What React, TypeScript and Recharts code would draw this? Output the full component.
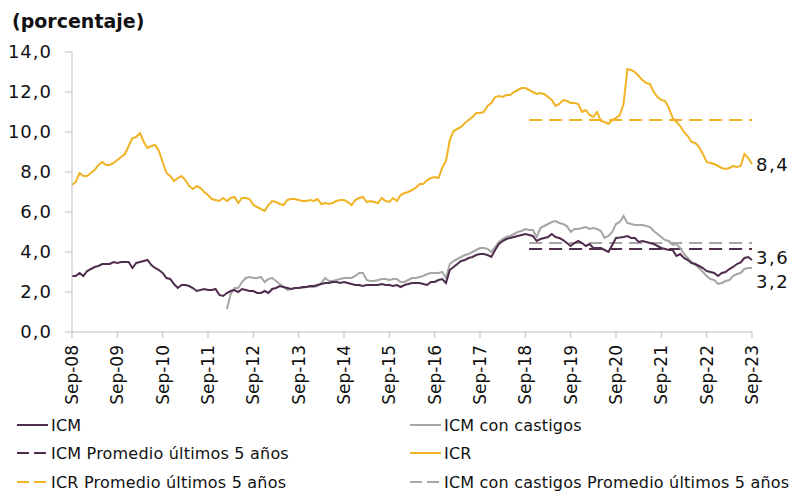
import React from "react";
import { LineChart, Line, XAxis, YAxis } from "recharts";

// Meses desde Sep-08 (índice 0) hasta Sep-23 (índice 180)
const tickLabels = [
  "Sep-08", "Sep-09", "Sep-10", "Sep-11", "Sep-12", "Sep-13", "Sep-14", "Sep-15",
  "Sep-16", "Sep-17", "Sep-18", "Sep-19", "Sep-20", "Sep-21", "Sep-22", "Sep-23"
];
const yTicks = [0, 2, 4, 6, 8, 10, 12, 14];

const icr = [
  7.35, 7.5, 7.95, 7.8, 7.8, 7.95, 8.1, 8.35, 8.5, 8.35, 8.35, 8.45,
  8.6, 8.75, 8.9, 9.3, 9.7, 9.75, 9.95, 9.5, 9.2, 9.3, 9.35, 9.05,
  8.5, 7.95, 7.8, 7.55, 7.7, 7.8, 7.6, 7.3, 7.15, 7.3, 7.2, 7.0,
  6.85, 6.65, 6.6, 6.55, 6.7, 6.55, 6.7, 6.75, 6.45, 6.7, 6.7, 6.65,
  6.35, 6.25, 6.15, 6.05, 6.35, 6.55, 6.5, 6.4, 6.35, 6.6, 6.65, 6.65,
  6.6, 6.55, 6.55, 6.6, 6.55, 6.65, 6.4, 6.45, 6.4, 6.45, 6.55, 6.6,
  6.6, 6.5, 6.35, 6.6, 6.7, 6.75, 6.5, 6.55, 6.5, 6.45, 6.7, 6.55,
  6.5, 6.7, 6.55, 6.85, 6.95, 7.0, 7.1, 7.2, 7.4, 7.4, 7.6, 7.7,
  7.75, 7.7, 8.2, 8.55, 9.6, 10.05, 10.15, 10.25, 10.45, 10.6, 10.75, 10.95,
  10.95, 11.0, 11.3, 11.45, 11.75, 11.8, 11.75, 11.85, 11.85, 12.0, 12.1, 12.2,
  12.2, 12.1, 12.0, 11.9, 11.95, 11.9, 11.75, 11.6, 11.3, 11.4, 11.6, 11.55,
  11.45, 11.45, 11.4, 11.0, 11.1, 10.85, 10.75, 11.0, 10.55, 10.5, 10.4, 10.6,
  10.7, 10.85, 11.4, 13.15, 13.1, 13.0, 12.8, 12.6, 12.45, 12.4, 12.0, 11.75,
  11.6, 11.55, 11.2, 10.7, 10.5, 10.3, 10.0, 9.8, 9.5, 9.45, 9.25, 8.9,
  8.5, 8.45, 8.4, 8.3, 8.2, 8.15, 8.2, 8.3, 8.25, 8.3, 8.9, 8.7,
  8.4
];

const icm = [
  2.8, 2.8, 2.95, 2.8, 3.05, 3.15, 3.25, 3.3, 3.4, 3.4, 3.4, 3.5,
  3.45, 3.5, 3.5, 3.5, 3.2, 3.45, 3.5, 3.55, 3.6, 3.35, 3.2, 3.1,
  2.95, 2.7, 2.65, 2.4, 2.2, 2.35, 2.35, 2.3, 2.2, 2.05, 2.1, 2.15,
  2.1, 2.1, 2.15, 1.85, 1.8, 1.95, 2.05, 2.1, 2.0, 2.15, 2.1, 2.05,
  2.05, 1.95, 1.95, 2.05, 1.95, 2.15, 2.2, 2.3, 2.25, 2.2, 2.15, 2.2,
  2.2, 2.25, 2.25, 2.3, 2.3, 2.35, 2.4, 2.45, 2.45, 2.5, 2.5, 2.45,
  2.5, 2.45, 2.4, 2.35, 2.35, 2.3, 2.35, 2.35, 2.35, 2.35, 2.4, 2.35,
  2.35, 2.3, 2.35, 2.25, 2.35, 2.4, 2.45, 2.45, 2.45, 2.4, 2.35, 2.5,
  2.5, 2.6, 2.65, 2.45, 3.1, 3.25, 3.4, 3.55, 3.6, 3.7, 3.75, 3.85,
  3.9, 3.9, 3.85, 3.75, 4.1, 4.4, 4.55, 4.65, 4.7, 4.75, 4.8, 4.85,
  4.9, 4.85, 4.8, 4.55, 4.65, 4.7, 4.75, 4.9, 4.75, 4.7, 4.6, 4.45,
  4.3, 4.45, 4.55, 4.45, 4.3, 4.4, 4.2, 4.2, 4.2, 4.1, 4.0, 4.35,
  4.7, 4.72, 4.75, 4.8, 4.7, 4.7, 4.5, 4.55, 4.5, 4.45, 4.4, 4.3,
  4.2, 4.15, 4.1, 4.1, 3.8, 3.9, 3.7, 3.6, 3.45, 3.4, 3.3, 3.2,
  3.05, 3.0, 2.95, 2.8, 2.95, 3.0, 3.15, 3.25, 3.4, 3.48, 3.7, 3.75,
  3.6
];

// ICM con castigos empieza en el mes 41 (ene-12)
const castigosDesde = 41;
const icmCastigos = [
  1.15, 1.9, 2.2, 2.2, 2.5, 2.7, 2.75,
  2.7, 2.7, 2.75, 2.5, 2.65, 2.7, 2.55, 2.4, 2.25, 2.1, 2.15, 2.2,
  2.2, 2.2, 2.25, 2.25, 2.25, 2.3, 2.45, 2.7, 2.55, 2.55, 2.6, 2.65,
  2.7, 2.7, 2.7, 2.8, 2.95, 2.95, 2.6, 2.55, 2.55, 2.6, 2.65, 2.65,
  2.6, 2.65, 2.65, 2.5, 2.5, 2.6, 2.7, 2.7, 2.75, 2.8, 2.9, 2.95,
  2.95, 2.95, 3.0, 2.7, 3.4, 3.55, 3.65, 3.75, 3.85, 3.9, 4.0, 4.1,
  4.2, 4.2, 4.15, 4.0, 4.25, 4.5, 4.65, 4.75, 4.8, 4.9, 5.0, 5.05,
  5.15, 5.1, 5.1, 4.75, 5.2, 5.3, 5.4, 5.5, 5.55, 5.45, 5.4, 5.3,
  5.0, 5.15, 5.15, 5.2, 5.25, 5.15, 5.2, 5.15, 5.05, 4.7, 4.8, 5.0,
  5.4, 5.5, 5.8, 5.45, 5.4, 5.35, 5.35, 5.35, 5.3, 5.25, 5.05, 4.9,
  4.75, 4.6, 4.55, 4.35, 4.4, 4.2, 3.9, 3.7, 3.5, 3.35, 3.2, 3.0,
  2.8, 2.65, 2.6, 2.4, 2.45, 2.55, 2.6, 2.8, 2.9, 2.95, 3.15, 3.2,
  3.2
];

// Promedios últimos 5 años (desde oct-18)
const promedioDesde = 121;
const icmPromedio = 4.15;
const icmCastigosPromedio = 4.45;
const icrPromedio = 10.6;

const COLOR_ICM = "#4f2d4f";
const COLOR_CAST = "#a6a6a6";
const COLOR_ICR = "#f0b323";
const AXIS = "#bfbfbf";
const FONT = "'DejaVu Sans', sans-serif";

const data = icr.map((v, i) => ({
  i,
  icr: v,
  icm: icm[i],
  icmCastigos: i >= castigosDesde ? icmCastigos[i - castigosDesde] : null,
  icmProm: i >= promedioDesde ? icmPromedio : null,
  castProm: i >= promedioDesde ? icmCastigosPromedio : null,
  icrProm: i >= promedioDesde ? icrPromedio : null
}));

const lastIndex = icr.length - 1;
const fmt = (v: number) => v.toFixed(1).replace(".", ",");

const endLabel = (dy: number) => (props: any) => {
  const { x, y, value, index } = props;
  if (index !== lastIndex || value == null) return null;
  return (
    <text
      x={x + 4}
      y={y + dy}
      dy="0.35em"
      fontSize={18}
      fontFamily={FONT}
      fill="#111"
      letterSpacing={1.5}
    >
      {fmt(value)}
    </text>
  );
};

const XTick = (props: any) => {
  const { x, y, payload } = props;
  const label = tickLabels[Math.round(payload.value / 12)];
  return (
    <g transform={`translate(${x},${y}) rotate(-90)`}>
      <text x={0} y={0} dy="0.35em" textAnchor="end" fontSize={17} fontFamily={FONT} fill="#111">
        {label}
      </text>
    </g>
  );
};

const legendItems = [
  { name: "ICM", color: COLOR_ICM, dashed: false, left: 17, top: 425 },
  { name: "ICM con castigos", color: COLOR_CAST, dashed: false, left: 410, top: 425 },
  { name: "ICM Promedio últimos 5 años", color: COLOR_ICM, dashed: true, left: 17, top: 453 },
  { name: "ICR", color: COLOR_ICR, dashed: false, left: 410, top: 453 },
  { name: "ICR Promedio últimos 5 años", color: COLOR_ICR, dashed: true, left: 17, top: 482 },
  { name: "ICM con castigos Promedio últimos 5 años", color: COLOR_CAST, dashed: true, left: 410, top: 482 }
];

export default function App() {
  return (
    <div style={{ position: "absolute", left: 0, top: 0, width: 790, height: 491, background: "#fff" }}>
      <div
        style={{
          position: "absolute",
          left: 12,
          top: 10,
          fontFamily: FONT,
          fontWeight: "bold",
          fontSize: 19,
          color: "#111"
        }}
      >
        (porcentaje)
      </div>
      <LineChart
        width={790}
        height={491}
        data={data}
        margin={{ top: 52, right: 38, left: 0, bottom: 89 }}
      >
        <XAxis
          dataKey="i"
          type="number"
          domain={[0, lastIndex]}
          ticks={tickLabels.map((_, k) => k * 12)}
          interval={0}
          height={70}
          tick={<XTick />}
          tickSize={6}
          tickMargin={7}
          axisLine={{ stroke: AXIS }}
          tickLine={{ stroke: AXIS }}
        />
        <YAxis
          domain={[0, 14]}
          ticks={yTicks}
          width={72}
          tickSize={7}
          tickMargin={13}
          tickFormatter={fmt}
          tick={{ fontSize: 18, fontFamily: FONT, fill: "#111", letterSpacing: 1 }}
          axisLine={{ stroke: AXIS }}
          tickLine={{ stroke: AXIS }}
        />
        <Line dataKey="icrProm" stroke={COLOR_ICR} strokeWidth={2} strokeDasharray="13 7" dot={false} isAnimationActive={false} />
        <Line dataKey="castProm" stroke={COLOR_CAST} strokeWidth={2} strokeDasharray="13 7" dot={false} isAnimationActive={false} />
        <Line dataKey="icmProm" stroke={COLOR_ICM} strokeWidth={2} strokeDasharray="13 7" dot={false} isAnimationActive={false} />
        <Line dataKey="icmCastigos" stroke={COLOR_CAST} strokeWidth={2} dot={false} connectNulls={false} isAnimationActive={false} label={endLabel(14)} />
        <Line dataKey="icm" stroke={COLOR_ICM} strokeWidth={2} dot={false} isAnimationActive={false} label={endLabel(-2)} />
        <Line dataKey="icr" stroke={COLOR_ICR} strokeWidth={2} dot={false} isAnimationActive={false} label={endLabel(1)} />
      </LineChart>
      {legendItems.map((it) => (
        <div
          key={it.name}
          style={{
            position: "absolute",
            left: it.left,
            top: it.top - 10,
            height: 20,
            display: "flex",
            alignItems: "center",
            fontFamily: FONT,
            fontSize: 16,
            color: "#111",
            whiteSpace: "nowrap",
            letterSpacing: 0.2
          }}
        >
          <svg width={31} height={20} style={{ marginRight: 3 }}>
            <line
              x1={0}
              y1={10}
              x2={31}
              y2={10}
              stroke={it.color}
              strokeWidth={2}
              strokeDasharray={it.dashed ? "12 5" : undefined}
            />
          </svg>
          {it.name}
        </div>
      ))}
    </div>
  );
}
